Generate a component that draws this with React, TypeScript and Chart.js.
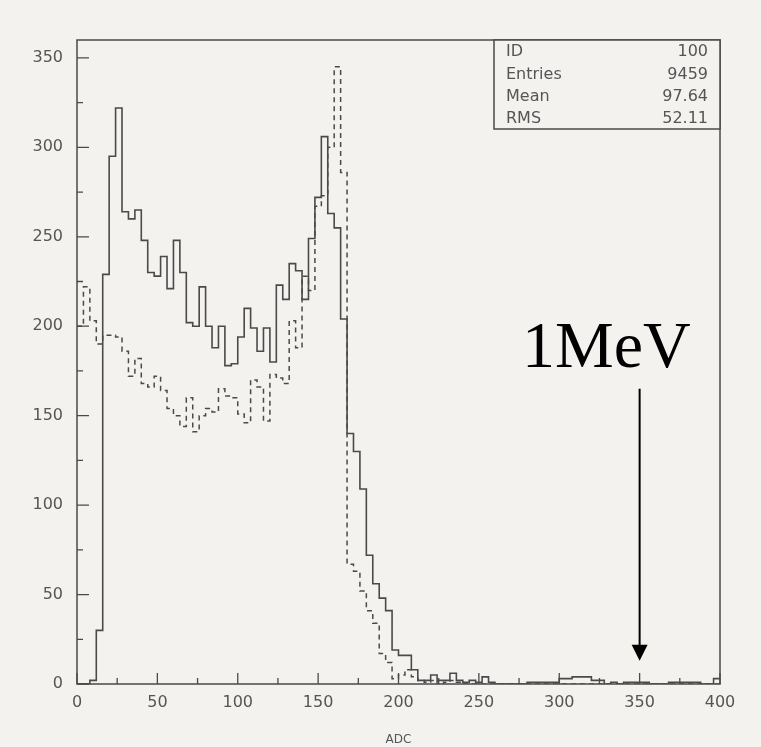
import React, { useEffect, useRef } from "react";
import { Chart, registerables } from "chart.js";

Chart.register(...registerables);

// ---- data ----
const BIN_WIDTH = 4;
const X_MIN = 0;
const X_MAX = 400;
const Y_MIN = 0;
const Y_MAX = 360;
const X_TICKS = [0, 50, 100, 150, 200, 250, 300, 350, 400];
const Y_TICKS = [0, 50, 100, 150, 200, 250, 300, 350];
const MINOR_STEP = 25;
const MAJOR_STEP = 50;

// solid histogram (100 bins of width 4 from 0 to 400)
const solidCounts = [
  0, 0, 2, 30, 229, 295, 322, 264, 260, 265,
  248, 230, 228, 239, 221, 248, 230, 202, 200, 222,
  200, 188, 200, 178, 179, 194, 210, 199, 186, 199,
  180, 223, 215, 235, 231, 215, 249, 272, 306, 263,
  255, 204, 140, 130, 109, 72, 56, 48, 41, 19,
  16, 16, 8, 2, 2, 5, 2, 2, 6, 2,
  1, 2, 1, 4, 1, 0, 0, 0, 0, 0,
  1, 1, 1, 1, 1, 3, 3, 4, 4, 4,
  2, 2, 0, 1, 0, 1, 1, 1, 1, 0,
  0, 0, 1, 1, 1, 1, 1, 0, 0, 3,
];

// dashed histogram
const dashedCounts = [
  200, 222, 203, 190, 195, 195, 194, 186, 172, 182,
  168, 166, 172, 164, 154, 150, 144, 160, 141, 150,
  154, 152, 165, 161, 160, 151, 146, 170, 166, 147,
  173, 171, 168, 203, 188, 228, 220, 267, 273, 300,
  345, 286, 67, 63, 52, 41, 34, 17, 12, 3,
  5, 8, 4, 2, 1, 2, 0, 1, 2, 1,
  0, 0, 0, 0, 0, 0, 0, 0, 0, 0,
  0, 0, 0, 0, 0, 0, 0, 0, 0, 0,
  0, 0, 0, 0, 0, 0, 0, 0, 0, 0,
  0, 0, 0, 0, 0, 0, 0, 0, 0, 0,
];

const statLabels = ["ID", "Entries", "Mean", "RMS"];
const statValues = ["100", "9459", "97.64", "52.11"];

const X_TITLE = "ADC";
const ANNOTATION_TEXT = "1MeV";
const ANNOTATION_X = 350;
const ANNOTATION_TEXT_Y = 177;
const ARROW_FROM = 165;
const ARROW_TO = 13;

// ---- styles ----
const PAPER = "#f4f2ef";
const INK = "#4a4a4a";
const TEXT = "#555555";
const SANS = "'DejaVu Sans', sans-serif";

function toSteps(counts: number[]) {
  const pts = counts.map((c, i) => ({ x: X_MIN + i * BIN_WIDTH, y: c }));
  pts.push({ x: X_MIN + counts.length * BIN_WIDTH, y: counts[counts.length - 1] });
  return pts;
}

const pawPlugin = {
  id: "pawDecor",
  afterDraw(chart: any) {
    const { ctx, chartArea: a, scales } = chart;
    const xs = scales.x;
    const ys = scales.y;
    ctx.save();
    // frame
    ctx.strokeStyle = INK;
    ctx.lineWidth = 1.5;
    ctx.strokeRect(a.left, a.top, a.right - a.left, a.bottom - a.top);
    // inward ticks
    ctx.beginPath();
    for (let v = Y_MIN; v <= Y_MAX; v += MINOR_STEP) {
      const py = ys.getPixelForValue(v);
      const len = v % MAJOR_STEP === 0 ? 12 : 6;
      ctx.moveTo(a.left, py);
      ctx.lineTo(a.left + len, py);
    }
    for (let v = X_MIN; v <= X_MAX; v += MINOR_STEP) {
      const px = xs.getPixelForValue(v);
      const len = v % MAJOR_STEP === 0 ? 11 : 6;
      ctx.moveTo(px, a.bottom);
      ctx.lineTo(px, a.bottom - len);
    }
    ctx.lineWidth = 1.3;
    ctx.stroke();

    // stat box
    const boxW = 226;
    const boxH = 89;
    const bx = a.right - boxW;
    const by = a.top;
    ctx.fillStyle = PAPER;
    ctx.fillRect(bx, by, boxW, boxH);
    ctx.lineWidth = 1.5;
    ctx.strokeStyle = INK;
    ctx.strokeRect(bx, by, boxW, boxH);
    ctx.fillStyle = TEXT;
    ctx.font = `16px ${SANS}`;
    ctx.textBaseline = "middle";
    const rowH = boxH / statLabels.length;
    statLabels.forEach((lab, i) => {
      const cy = by + rowH * (i + 0.5) + 1;
      ctx.textAlign = "left";
      ctx.fillText(lab, bx + 12, cy);
      ctx.textAlign = "right";
      ctx.fillText(statValues[i], a.right - 12, cy);
    });

    // annotation: 1MeV with arrow
    const ax = xs.getPixelForValue(ANNOTATION_X);
    const yTop = ys.getPixelForValue(ARROW_FROM);
    const yTip = ys.getPixelForValue(ARROW_TO);
    ctx.fillStyle = "#000";
    ctx.strokeStyle = "#000";
    ctx.lineWidth = 2;
    ctx.beginPath();
    ctx.moveTo(ax, yTop);
    ctx.lineTo(ax, yTip - 12);
    ctx.stroke();
    ctx.beginPath();
    ctx.moveTo(ax - 8, yTip - 16);
    ctx.lineTo(ax + 8, yTip - 16);
    ctx.lineTo(ax, yTip);
    ctx.closePath();
    ctx.fill();
    ctx.font = `66px 'Liberation Serif', 'Times New Roman', serif`;
    ctx.textAlign = "right";
    ctx.textBaseline = "alphabetic";
    ctx.fillText(ANNOTATION_TEXT, ax + 51, ys.getPixelForValue(ANNOTATION_TEXT_Y));
    ctx.restore();
  },
};

export default function App() {
  const ref = useRef<HTMLCanvasElement | null>(null);
  useEffect(() => {
    if (!ref.current) return;
    const tickFont = { family: SANS, size: 16 };
    const chart = new Chart(ref.current, {
      type: "line",
      data: {
        datasets: [
          {
            label: "solid",
            data: toSteps(solidCounts),
            stepped: true,
            borderColor: INK,
            borderWidth: 1.6,
            pointRadius: 0,
            fill: false,
          },
          {
            label: "dashed",
            data: toSteps(dashedCounts),
            stepped: true,
            borderColor: INK,
            borderWidth: 1.5,
            borderDash: [5, 4],
            pointRadius: 0,
            fill: false,
          },
        ],
      },
      options: {
        animation: false,
        responsive: false,
        layout: { padding: { top: 40, right: 41, left: 0, bottom: 0 } },
        plugins: {
          legend: { display: false },
          tooltip: { enabled: false },
        },
        scales: {
          x: {
            type: "linear",
            min: X_MIN,
            max: X_MAX,
            grid: { display: false, drawTicks: false },
            border: { display: false },
            ticks: { font: tickFont, color: TEXT, padding: 9, autoSkip: false, maxRotation: 0 },
            afterBuildTicks: (s: any) => {
              s.ticks = X_TICKS.map((v) => ({ value: v }));
            },
            afterFit: (s: any) => {
              s.height = 63;
            },
            title: {
              display: true,
              text: X_TITLE,
              color: TEXT,
              font: { family: SANS, size: 12 },
              padding: { top: 0, bottom: 0 },
            },
          },
          y: {
            type: "linear",
            min: Y_MIN,
            max: Y_MAX,
            grid: { display: false, drawTicks: false },
            border: { display: false },
            ticks: { font: tickFont, color: TEXT, padding: 14, autoSkip: false },
            afterBuildTicks: (s: any) => {
              s.ticks = Y_TICKS.map((v) => ({ value: v }));
            },
            afterFit: (s: any) => {
              s.width = 77;
            },
          },
        },
      },
      plugins: [pawPlugin],
    });
    return () => chart.destroy();
  }, []);

  return (
    <div style={{ position: "fixed", left: 0, top: 0, width: 761, height: 747, background: PAPER }}>
      <canvas ref={ref} width={761} height={747} style={{ display: "block" }} />
    </div>
  );
}
